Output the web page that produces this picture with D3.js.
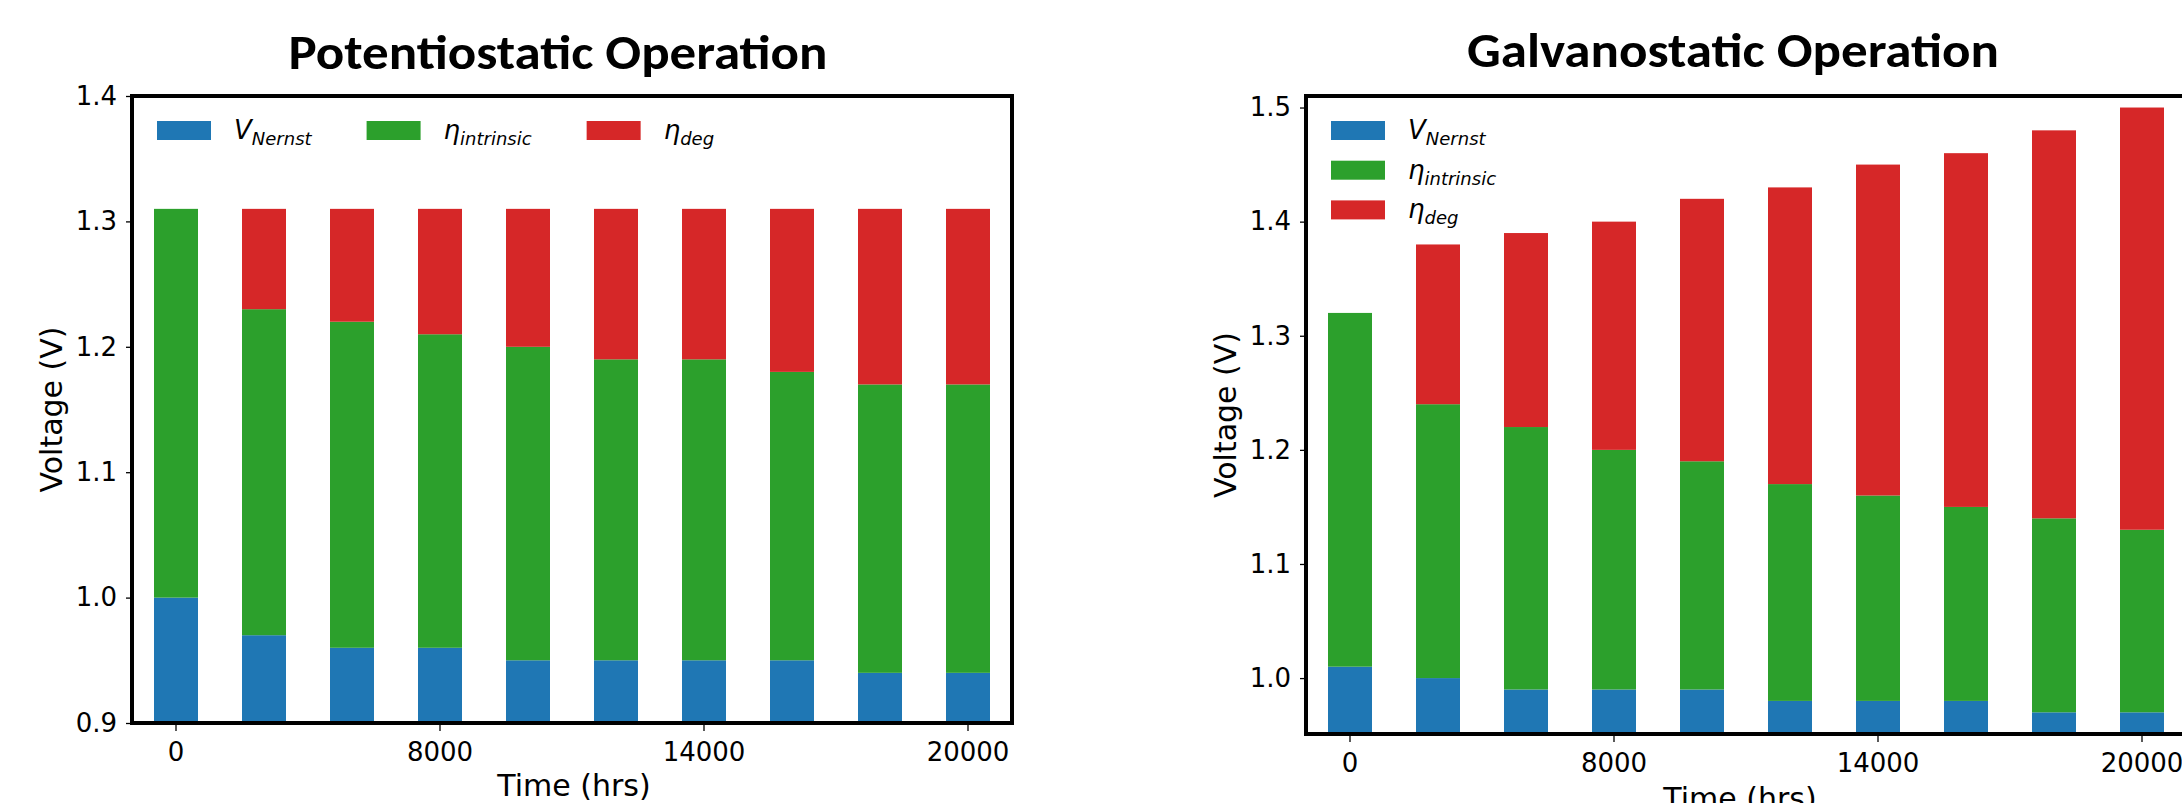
<!DOCTYPE html>
<html><head><meta charset="utf-8">
<script src="https://cdn.jsdelivr.net/npm/d3@7"></script>
<style>body{margin:0;background:#fff;overflow:hidden} svg{display:block}</style>
</head><body>
<svg id="chart" width="2182" height="803"></svg>
<script>
// ---- data ----
const timeCategories = ["0","4000","6000","8000","10000","12000","14000","16000","18000","20000"];
const xTickLabels = ["0","8000","14000","20000"];
const legendLabels = [["V","Nernst"],["\u03b7","intrinsic"],["\u03b7","deg"]];
const seriesColors = ["#1f77b4","#2ca02c","#d62728"];
const potVNernst   = [1.00,0.97,0.96,0.96,0.95,0.95,0.95,0.95,0.94,0.94];
const potIntrinsic = [0.31,0.26,0.26,0.25,0.25,0.24,0.24,0.23,0.23,0.23];
const potDeg       = [0.00,0.08,0.09,0.10,0.11,0.12,0.12,0.13,0.14,0.14];
const galVNernst   = [1.01,1.00,0.99,0.99,0.99,0.98,0.98,0.98,0.97,0.97];
const galIntrinsic = [0.31,0.24,0.23,0.21,0.20,0.19,0.18,0.17,0.17,0.16];
const galDeg       = [0.00,0.14,0.17,0.20,0.23,0.26,0.29,0.31,0.34,0.37];
const potYTicks = [0.9,1.0,1.1,1.2,1.3,1.4];
const galYTicks = [1.0,1.1,1.2,1.3,1.4,1.5];

const svg = d3.select("#chart");
const FONT = "'DejaVu Sans', sans-serif";

function legendText(g, x, y, lab){
  const t = g.append("text").attr("x", x).attr("y", y)
    .attr("font-family", FONT).attr("font-style","italic").attr("font-size", 26).attr("fill","#000");
  t.append("tspan").text(lab[0]);
  t.append("tspan").attr("dy", 6).attr("font-size", 18).text(lab[1]);
  return t.node().getComputedTextLength();
}

function drawPanel(o, idx){
  const g = svg.append("g");
  const x = d3.scaleBand().domain(timeCategories).range([o.left, o.right])
    .paddingInner(0.5).paddingOuter(0.25);
  const y = d3.scaleLinear().domain(o.yDomain).range([o.bottom, o.top]);
  const rows = timeCategories.map((t,i)=>({t, s0:o.vals[0][i], s1:o.vals[1][i], s2:o.vals[2][i]}));
  const stacked = d3.stack().keys(["s0","s1","s2"])(rows);

  const cid = "clip"+idx;
  g.append("clipPath").attr("id", cid).append("rect")
    .attr("x", o.left).attr("y", o.top).attr("width", o.right-o.left).attr("height", o.bottom-o.top);

  const bars = g.append("g").attr("clip-path", `url(#${cid})`);
  stacked.forEach((layer, k)=>{
    bars.append("g").attr("fill", seriesColors[k])
      .selectAll("rect").data(layer).join("rect")
      .attr("x", d=>x(d.data.t)).attr("width", x.bandwidth())
      .attr("y", d=>y(d[1])).attr("height", d=>Math.max(0, y(d[0])-y(d[1])));
  });

  // axes
  const ya = g.append("g").attr("transform", `translate(${o.left},0)`)
    .call(d3.axisLeft(y).tickValues(o.yTicks).tickFormat(d3.format(".1f")).tickSize(6).tickPadding(9));
  const xa = g.append("g").attr("transform", `translate(0,${o.bottom})`)
    .call(d3.axisBottom(x).tickValues(xTickLabels).tickSize(8).tickPadding(12));
  [ya, xa].forEach(a=>{
    a.select(".domain").remove();
    a.selectAll("line").attr("stroke","#000").attr("stroke-width",1.3);
    a.selectAll("text").attr("font-family", FONT).attr("font-size", 26).attr("fill","#000");
  });

  // spines
  g.append("rect").attr("x", o.left).attr("y", o.top)
    .attr("width", o.right-o.left).attr("height", o.bottom-o.top)
    .attr("fill","none").attr("stroke","#000").attr("stroke-width",4);

  // axis labels
  g.append("text").attr("transform", `translate(${o.left-70},${(o.top+o.bottom)/2}) rotate(-90)`)
    .attr("text-anchor","middle").attr("font-family", FONT).attr("font-size", 30).text("Voltage (V)");
  g.append("text").attr("x", o.xLabelX).attr("y", o.xLabelY)
    .attr("text-anchor","middle").attr("font-family", FONT).attr("font-size", 30).text("Time (hrs)");

  // title
  g.append("text").attr("x", o.titleX).attr("y", o.titleY).attr("text-anchor","middle")
    .attr("font-family","Carlito, Lato, 'Open Sans', sans-serif").attr("font-weight","bold")
    .attr("font-size", 48).attr("textLength", o.titleW).attr("lengthAdjust","spacingAndGlyphs")
    .text(o.title);

  // legend
  const lg = g.append("g");
  let lx = o.left + 25, ly = 121;
  legendLabels.forEach((lab, k)=>{
    lg.append("rect").attr("x", lx).attr("y", ly).attr("width", 54).attr("height", 19)
      .attr("fill", seriesColors[k]);
    const w = legendText(lg, lx+77, ly+18, lab);
    if (o.legendMode === "row") { lx += 77 + w + 55; }
    else { ly += 39.7; }
  });
}

drawPanel({left:132, right:1012, top:96, bottom:723, yDomain:[0.9,1.4], yTicks:potYTicks,
  vals:[potVNernst, potIntrinsic, potDeg], title:"Potentiostatic Operation",
  titleX:558, titleY:69, titleW:539, xLabelX:574, xLabelY:796, legendMode:"row"}, 0);
drawPanel({left:1306, right:2186, top:96, bottom:734, yDomain:[0.951,1.5101], yTicks:galYTicks,
  vals:[galVNernst, galIntrinsic, galDeg], title:"Galvanostatic Operation",
  titleX:1733, titleY:66.5, titleW:532, xLabelX:1740, xLabelY:809, legendMode:"col"}, 1);
</script>
</body></html>
